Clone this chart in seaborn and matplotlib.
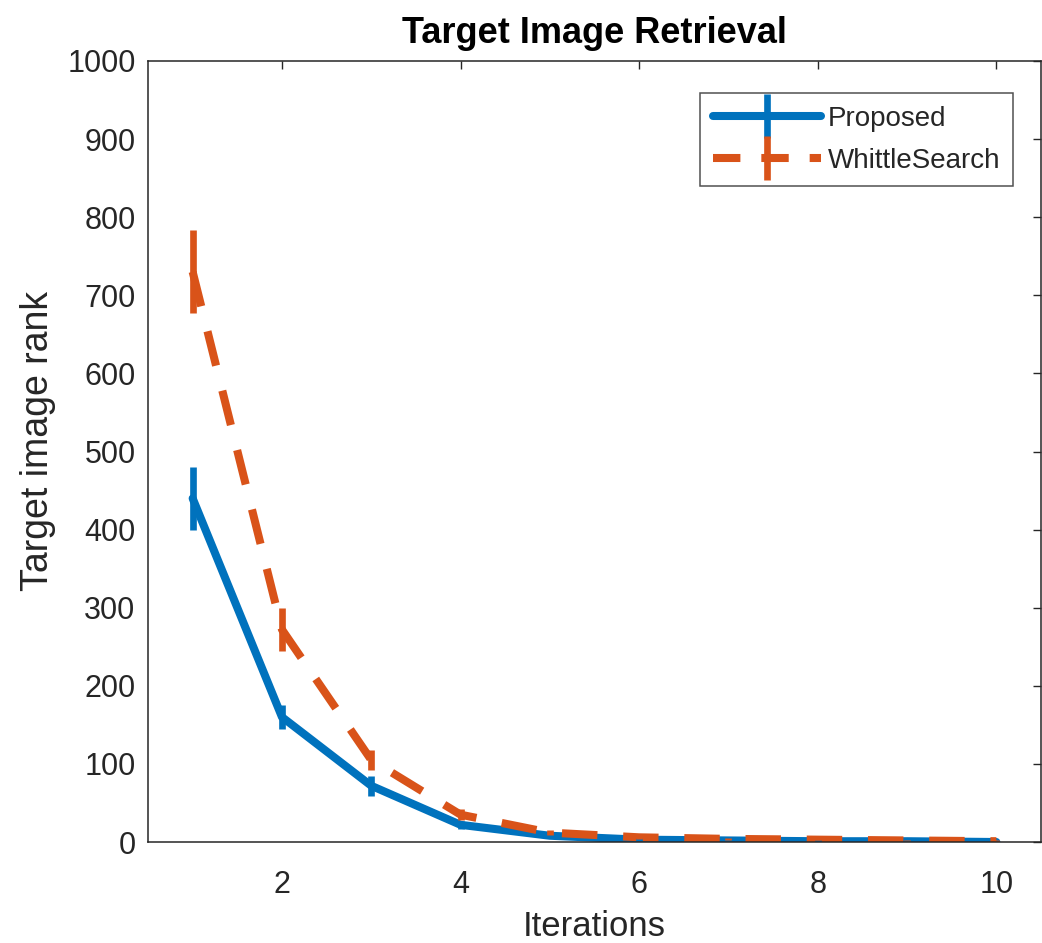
import matplotlib
matplotlib.use("Agg")
import matplotlib.pyplot as plt
import seaborn as sns
import pandas as pd
from matplotlib.lines import Line2D

iterations = [1, 2, 3, 4, 5, 6, 7, 8, 9, 10]
proposed = [440, 160, 72, 22, 8, 3, 2, 1, 1, 0]
proposed_err = [40, 15, 13, 5, 3, 2, 1, 1, 1, 1]
whittle = [730, 272, 105, 35, 12, 6, 4, 3, 2, 1]
whittle_err = [53, 27, 13, 7, 3, 2, 1, 1, 1, 1]
yticks = [0, 100, 200, 300, 400, 500, 600, 700, 800, 900, 1000]
xticks = [2, 4, 6, 8, 10]

sns.set_style("white")
plt.rcParams['font.family'] = ['Liberation Sans', 'DejaVu Sans']

blue = "#0072BD"
orange = "#D95319"
dark = "#262626"

fig = plt.figure(figsize=(10.42, 9.43), dpi=100)
ax = fig.add_axes([148/1042, 1 - 842/943, (1041-148)/1042, (842-61)/943])

df = pd.DataFrame({"x": iterations, "Proposed": proposed, "WhittleSearch": whittle})
lw = 5.8
dash = (0, (4.4, 3.2))
sns.lineplot(data=df, x="x", y="Proposed", ax=ax, color=blue, linewidth=lw, legend=False)
sns.lineplot(data=df, x="x", y="WhittleSearch", ax=ax, color=orange, linewidth=lw, legend=False)
ax.lines[1].set_linestyle(dash)
ax.errorbar(iterations, proposed, yerr=proposed_err, fmt='none', ecolor=blue, elinewidth=4.8, capsize=0)
ax.errorbar(iterations, whittle, yerr=whittle_err, fmt='none', ecolor=orange, elinewidth=4.8, capsize=0)

ax.set_xlim(0.5, 10.5)
ax.set_ylim(0, 1000)
ax.set_xticks(xticks)
ax.set_yticks(yticks)
ax.tick_params(direction='in', length=6, width=1, colors=dark, labelsize=22,
               top=True, right=True, labeltop=False, labelright=False)
ax.tick_params(axis='x', pad=20)
ax.tick_params(axis='y', pad=9)
for s in ax.spines.values():
    s.set_visible(True)
    s.set_color(dark)
    s.set_linewidth(1.1)

ax.set_title("Target Image Retrieval", fontsize=26, fontweight='bold', color='black', pad=13)
ax.set_xlabel("Iterations", fontsize=25, color=dark, labelpad=7)
ax.set_ylabel("Target image rank", fontsize=27, color=dark)
ax.yaxis.set_label_coords(-0.103, 0.513)

h1 = Line2D([], [], color=blue, linewidth=lw, marker='|', markersize=32, markeredgewidth=4.8)
h2 = Line2D([], [], color=orange, linewidth=lw, linestyle=(0, (3.4, 2.6)), marker='|', markersize=32, markeredgewidth=4.8)
leg = ax.legend([h1, h2], ["Proposed", "WhittleSearch"], loc='upper right',
                bbox_to_anchor=(0.9686, 0.959), fontsize=20, frameon=True, fancybox=False,
                edgecolor=dark, handlelength=3.9, handletextpad=0.25, borderpad=0.45,
                labelspacing=0.58, borderaxespad=0)
leg.get_frame().set_linewidth(1.1)
for t in leg.get_texts():
    t.set_color(dark)

fig.savefig("out.png", dpi=100)
